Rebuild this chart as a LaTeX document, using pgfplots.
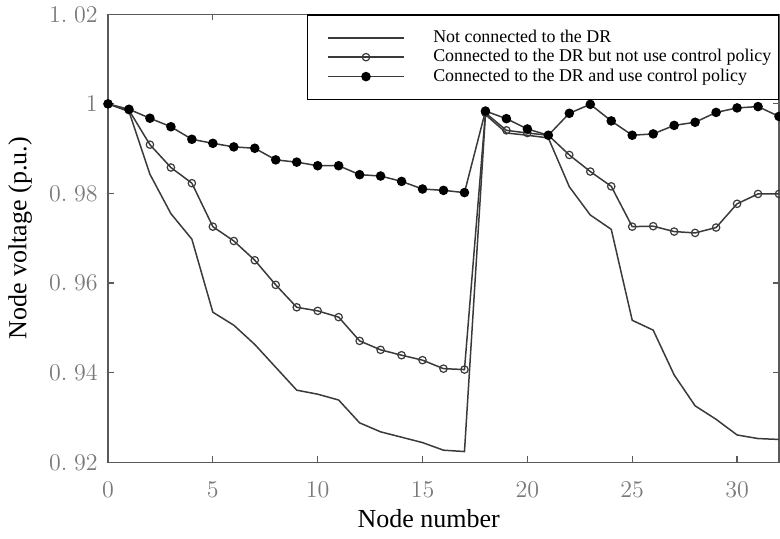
\documentclass[border=0pt]{standalone}
\usepackage{fontspec}
\setmainfont{Liberation Serif}
\usepackage{pgfplots}
\pgfplotsset{compat=1.18}
\definecolor{curve}{HTML}{3A3A3A}
\definecolor{axisgray}{HTML}{5A5A5A}
\definecolor{tickgray}{HTML}{7A7A7A}
\begin{document}
\begin{tikzpicture}
\begin{axis}[
 scale only axis, width=335.5pt, height=224pt,
 xmin=0, xmax=32, ymin=0.92, ymax=1.02,
 xtick={0,5,10,15,20,25,30},
 ytick={0.92,0.94,0.96,0.98,1,1.02},
 yticklabels={$0.\;92$,$0.\;94$,$0.\;96$,$0.\;98$,$1$,$1.\;02$},
 tick align=inside, major tick length=3pt,
 axis line style={axisgray, line width=0.7pt},
 tick style={axisgray, line width=0.6pt},
 tick label style={font=\fontsize{11.5}{11.5}\selectfont, text=tickgray},
 xticklabel style={anchor=center, yshift=-13.6pt},
 yticklabel style={anchor=east, inner sep=0pt, xshift=-5pt},
 xlabel={Node number}, ylabel={Node voltage (p.u.)},
 every axis x label/.style={at={(axis description cs:0.478,-0.125)},anchor=center,font=\fontsize{13}{13}\selectfont},
 every axis y label/.style={at={(axis description cs:-0.131,0.5)},rotate=90,anchor=center,font=\fontsize{13}{13}\selectfont},
 legend style={at={(rel axis cs:1,1)}, anchor=north east, draw=black, line width=0.75pt,
   fill=white, inner xsep=10pt, inner ysep=7.5pt, row sep=2pt,
   font=\fontsize{8.95}{8.95}\selectfont, nodes={inner sep=0pt}},
 legend cell align=left,
 legend image code/.code={\draw[mark repeat=2,mark phase=2,#1] plot coordinates {(0pt,0pt) (18.75pt,0pt) (37.5pt,0pt)}; \path (52pt,0pt);},
]
\addplot[curve, line width=0.75pt, mark=none] coordinates {
(0,1.0000) (1,0.9983) (2,0.9843) (3,0.9755) (4,0.9698) (5,0.9535) (6,0.9506) (7,0.9463)
(8,0.9412) (9,0.9361) (10,0.9352) (11,0.9339) (12,0.9288) (13,0.9268) (14,0.9256) (15,0.9244)
(16,0.9227) (17,0.9224) (18,0.9976) (19,0.9935) (20,0.9930) (21,0.9924) (22,0.9815) (23,0.9752)
(24,0.9720) (25,0.9517) (26,0.9495) (27,0.9395) (28,0.9326) (29,0.9296) (30,0.9261) (31,0.9253) (32,0.9251)};
\addlegendentry{\makebox[162.5pt][l]{\rule[-2pt]{0pt}{8pt}Not connected to the DR}}
\addplot[curve, line width=0.75pt, mark=o, mark size=1.85pt, mark options={fill=white, line width=0.6pt}] coordinates {
(0,1.0000) (1,0.9986) (2,0.9909) (3,0.9858) (4,0.9823) (5,0.9726) (6,0.9694) (7,0.9651)
(8,0.9596) (9,0.9546) (10,0.9538) (11,0.9524) (12,0.9471) (13,0.9451) (14,0.9439) (15,0.9428)
(16,0.9409) (17,0.9407) (18,0.9980) (19,0.9941) (20,0.9935) (21,0.9930) (22,0.9886) (23,0.9849)
(24,0.9816) (25,0.9726) (26,0.9727) (27,0.9715) (28,0.9712) (29,0.9724) (30,0.9777) (31,0.9799) (32,0.9799)};
\addlegendentry{\makebox[162.5pt][l]{\rule[-2pt]{0pt}{8pt}Connected to the DR but not use control policy}}
\addplot[curve, line width=0.75pt, mark=*, mark size=2pt, mark options={fill=black, draw=black}] coordinates {
(0,1.0000) (1,0.9988) (2,0.9968) (3,0.9949) (4,0.9921) (5,0.9912) (6,0.9904) (7,0.9901)
(8,0.9875) (9,0.9870) (10,0.9862) (11,0.9862) (12,0.9842) (13,0.9839) (14,0.9827) (15,0.9810)
(16,0.9807) (17,0.9802) (18,0.9984) (19,0.9967) (20,0.9944) (21,0.9930) (22,0.9979) (23,0.9999)
(24,0.9962) (25,0.9930) (26,0.9933) (27,0.9952) (28,0.9959) (29,0.9981) (30,0.9991) (31,0.9994) (32,0.9972)};
\addlegendentry{\makebox[162.5pt][l]{\rule[-2pt]{0pt}{8pt}Connected to the DR and use control policy}}
\end{axis}
\pgfresetboundingbox
\path (current axis.south west) ++(-54pt,-38.35pt) rectangle ++(390pt,269.5pt);
\end{tikzpicture}
\end{document}
